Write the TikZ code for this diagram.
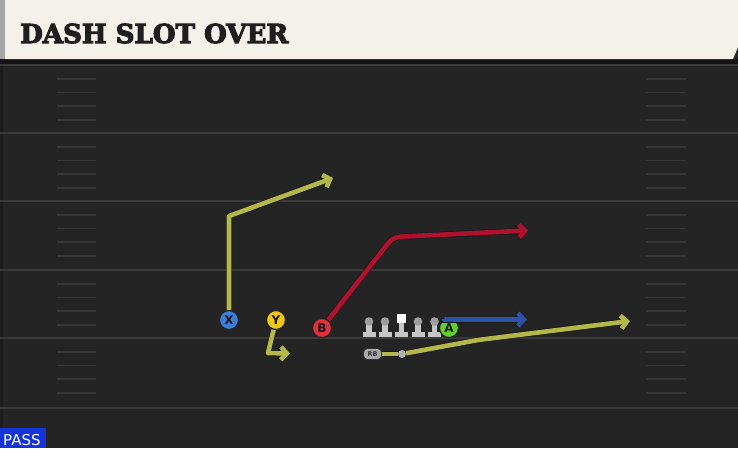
\documentclass[tikz,border=0pt]{standalone}
\usepackage{fontspec}
\setmainfont{DejaVu Sans}
\newfontfamily\titlefont{DejaVu Serif}
\usetikzlibrary{arrows.meta}
\definecolor{field}{HTML}{242424}
\definecolor{cream}{HTML}{F4F1EA}
\definecolor{yardc}{HTML}{3A3A3A}
\definecolor{hashc}{HTML}{363636}
\definecolor{routey}{HTML}{B3B84A}
\definecolor{router}{HTML}{B0112E}
\definecolor{routeb}{HTML}{2B53A8}
\definecolor{pblue}{HTML}{3D7FD8}
\definecolor{pyellow}{HTML}{F2C619}
\definecolor{pred}{HTML}{E2303C}
\definecolor{pgreen}{HTML}{62D02C}
\definecolor{lgray}{HTML}{C6C6C6}
\definecolor{passblue}{HTML}{1234D8}
\tikzset{
  player/.style={circle, draw=black!85, line width=1.2pt, minimum size=19pt, inner sep=0pt, font=\bfseries\fontsize{12}{12}\selectfont, text=black!90},
  route/.style={line width=4.6pt, line join=round, line cap=butt,
     -{Straight Barb[length=6pt,width=13pt]},
     preaction={draw=black!90, line width=6pt, -{Straight Barb[length=6pt,width=13pt]}}},
  yard/.style={draw=yardc, line width=2pt},
  hashm/.style={draw=hashc, line width=1.5pt},
  lman/.pic={
    \fill[lgray] (-6.5,10) rectangle (6.5,15.5);
    \fill[lgray] (-2.8,0) rectangle (2.8,11);
    \fill[lgray!80!black] (0,0) circle (4.3);
  },
  cman/.pic={
    \fill[lgray] (-6.5,10) rectangle (6.5,15.5);
    \fill[lgray] (-2.8,0) rectangle (2.8,11);
    \fill[white] (-4.2,-7.5) rectangle (4.2,1);
  }
}
\begin{document}
\begin{tikzpicture}[x=1pt,y=-1pt]
\useasboundingbox (0,0) rectangle (738,448);
\fill[field] (0,0) rectangle (738,448);
\fill[black!20!field] (0,59) rectangle (2.5,448);
% header
\fill[black!92] (0,59) rectangle (738,64.5);
\fill[cream] (5,0) -- (738,0) -- (738,47) -- (733,59) -- (5,59) -- cycle;
\fill[gray!70] (0,0) rectangle (5,59);
\node[anchor=base west, inner sep=0pt, text=black!88] (title) at (20,43)
  {\special{pdf:literal direct 2 Tr 1.1 w}\resizebox{268pt}{!}{\titlefont\bfseries\fontsize{28}{28}\selectfont DASH SLOT OVER}\special{pdf:literal direct 0 Tr}};
% yard lines and hashes
\foreach \y in {65,133,201,270,338,408} {\draw[yard] (0,\y) -- (738,\y);}
\foreach \y in {65,133,201,270,338} {
  \foreach \o in {14,27.5,41,55} {
    \draw[hashm] (57,\y+\o) -- (96,\y+\o);
    \draw[hashm] (646,\y+\o) -- (686,\y+\o);
  }
}
% line
\pic at (369,321.5) {lman};
\pic at (385,321.5) {lman};
\pic at (401.5,321.5) {cman};
\pic at (418,321.5) {lman};
\pic at (434.5,321.5) {lman};
% players
\node[player, fill=pblue] (X) at (229,320) {X};
\node[player, fill=pyellow] (Y) at (276,320) {Y};
\node[player, fill=pred] (B) at (322,328) {B};
\node[player, fill=pgreen] (A) at (449,328) {A};
\node[draw=black!80, line width=0.8pt, fill=lgray!85!black, rounded corners=4pt, minimum width=18pt, minimum height=11pt, inner sep=0pt, font=\bfseries\fontsize{6.5}{6.5}\selectfont, text=black!80] (RB) at (372.5,354) {RB};
\node[circle, fill=lgray!90!black, minimum size=8pt, inner sep=0pt] (dot) at (402,354) {};
% route points
\coordinate (xc) at (229,216);
\coordinate (xe) at (333,178);
\coordinate (yc) at (268,353);
\coordinate (ye) at (290,353.5);
\coordinate (bc) at (393,237);
\coordinate (be) at (528,230.5);
\coordinate (ae) at (527,319.5);
\coordinate (rk) at (478,340);
\coordinate (re) at (630,321);
% routes
\draw[route, draw=routey] (X) -- (xc) -- (xe);
\draw[route, draw=routey] (Y) -- (yc) -- (ye);
\draw[route, draw=router, rounded corners=7pt] (B) -- (bc) -- (be);
\draw[route, draw=routeb] (A.118) |- (ae);
\draw[line width=4.6pt, draw=routey, preaction={draw=black!90, line width=6pt}] (RB) -- (dot);
\draw[route, draw=routey] (dot) -- (rk) -- (re);
% pass tag
\fill[passblue] (0,428) rectangle (45.5,448);
\node[anchor=base west, inner sep=0pt, font=\fontsize{15}{15}\selectfont, text=white] (pass) at (3,445) {PASS};
\end{tikzpicture}
\end{document}
